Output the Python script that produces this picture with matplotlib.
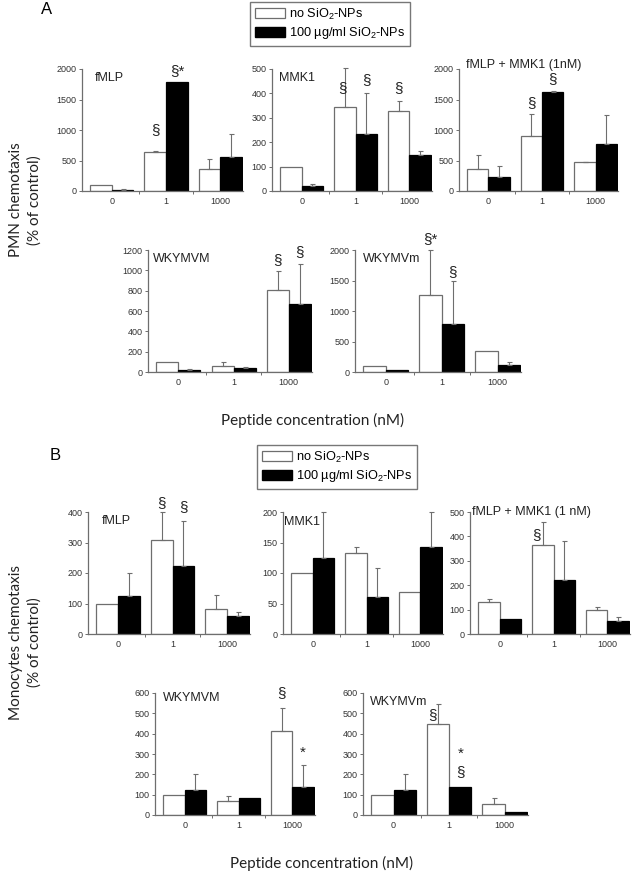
import numpy as np
import matplotlib.pyplot as plt
from matplotlib.patches import Patch

plt.rcParams['font.family'] = ['Liberation Sans', 'DejaVu Sans']
plt.rcParams['mathtext.default'] = 'regular'

conc = ["0", "1", "1000"]
legend_labels = ["no SiO$_2$-NPs", "100 µg/ml SiO$_2$-NPs"]

# Panel A (PMN)
a_fmlp_no, a_fmlp_no_sd = [100, 640, 360], [0, 20, 170]
a_fmlp_np, a_fmlp_np_sd = [20, 1780, 560], [10, 0, 380]
a_mmk1_no, a_mmk1_no_sd = [100, 345, 328], [0, 160, 40]
a_mmk1_np, a_mmk1_np_sd = [20, 232, 148], [10, 170, 16]
a_comb_no, a_comb_no_sd = [355, 900, 470], [235, 360, 10]
a_comb_np, a_comb_np_sd = [230, 1620, 770], [180, 20, 470]
a_wkymvm_no, a_wkymvm_no_sd = [98, 62, 806], [0, 36, 187]
a_wkymvm_np, a_wkymvm_np_sd = [20, 42, 672], [10, 4, 388]
a_wkymvdm_no, a_wkymvdm_no_sd = [100, 1265, 350], [0, 735, 0]
a_wkymvdm_np, a_wkymvdm_np_sd = [30, 787, 115], [0, 713, 55]

# Panel B (monocytes)
b_fmlp_no, b_fmlp_no_sd = [100, 308, 82], [0, 92, 46]
b_fmlp_np, b_fmlp_np_sd = [124, 224, 58], [77, 147, 15]
b_mmk1_no, b_mmk1_no_sd = [100, 133, 69], [0, 10, 0]
b_mmk1_np, b_mmk1_np_sd = [124, 61, 142], [76, 47, 58]
b_comb_no, b_comb_no_sd = [132, 365, 98], [10, 93, 14]
b_comb_np, b_comb_np_sd = [60, 221, 53], [0, 160, 18]
b_wkymvm_no, b_wkymvm_no_sd = [100, 67, 415], [0, 28, 110]
b_wkymvm_np, b_wkymvm_np_sd = [123, 85, 139], [77, 0, 107]
b_wkymvdm_no, b_wkymvdm_no_sd = [100, 448, 53], [0, 97, 29]
b_wkymvdm_np, b_wkymvdm_np_sd = [123, 139, 15], [77, 0, 0]

W, H = 634, 873
fig = plt.figure(figsize=(W / 100, H / 100), dpi=100)
EDGE = '#6e6e6e'
w = 0.4


def panel(box, title, tpos, no, no_sd, npv, np_sd, ymax, ystep, marks):
    x0, x1, y0, y1 = box
    ax = fig.add_axes([x0 / W, 1 - y1 / H, (x1 - x0) / W, (y1 - y0) / H])
    x = np.arange(len(conc))
    ax.bar(x - w / 2, no, w, color='white', edgecolor=EDGE, lw=0.9, zorder=2)
    ax.bar(x + w / 2, npv, w, color='black', edgecolor='black', lw=0.9, zorder=2)
    for xs, vals, sds in [(x - w / 2, no, no_sd), (x + w / 2, npv, np_sd)]:
        sds = np.array(sds)
        m = sds > 0
        if m.any():
            ax.errorbar(xs[m], np.array(vals)[m], yerr=[np.zeros(m.sum()), sds[m]],
                        fmt='none', ecolor=EDGE, elinewidth=0.8, capsize=1.8,
                        capthick=0.8, clip_on=False, zorder=3)
    ax.set_xlim(-0.55, 2.42)
    ax.set_ylim(0, ymax)
    ax.set_yticks(np.arange(0, ymax + 1, ystep))
    ax.set_xticks(x)
    ax.set_xticklabels(conc)
    ax.set_xticks([0.5, 1.5], minor=True)
    ax.tick_params(axis='x', which='major', length=0, pad=4, labelsize=6.5, labelcolor='#333333')
    ax.tick_params(axis='x', which='minor', length=2.5, width=0.7, color=EDGE)
    ax.tick_params(axis='y', length=2.5, width=0.7, color=EDGE, pad=1.5,
                   labelsize=6.5, labelcolor='#333333')
    for s in ['top', 'right']:
        ax.spines[s].set_visible(False)
    for s in ['left', 'bottom']:
        ax.spines[s].set_color(EDGE)
        ax.spines[s].set_linewidth(0.9)
    ax.text(tpos[0] / (x1 - x0), tpos[1], title, transform=ax.transAxes,
            ha='left', va='center', fontsize=9, color='#222222')
    for g, s, txt, yv, dx in marks:
        xx = g + (s - 0.5) * w + dx
        ax.text(xx, yv, txt, ha='center', va='center', fontsize=11,
                color='#222222', clip_on=False)
    return ax


panel((82, 243, 69, 191), "fMLP", (13, 0.93), a_fmlp_no, a_fmlp_no_sd, a_fmlp_np, a_fmlp_np_sd,
      2000, 500, [(1, 0, '§', 1000, 0), (1, 1, '§*', 1960, 0)])
panel((272, 432, 69, 191), "MMK1", (7, 0.93), a_mmk1_no, a_mmk1_no_sd, a_mmk1_np, a_mmk1_np_sd,
      500, 100, [(1, 0, '§', 420, -0.05), (1, 1, '§', 455, 0), (2, 0, '§', 420, 0)])
panel((459, 618, 69, 191), "fMLP + MMK1 (1nM)", (7, 1.03), a_comb_no, a_comb_no_sd, a_comb_np, a_comb_np_sd,
      2000, 500, [(1, 0, '§', 1440, 0), (1, 1, '§', 1830, 0)])
panel((148, 312, 250, 372), "WKYMVM", (5, 0.93), a_wkymvm_no, a_wkymvm_no_sd, a_wkymvm_np, a_wkymvm_np_sd,
      1200, 200, [(2, 0, '§', 1100, 0), (2, 1, '§', 1180, 0)])
panel((355, 521, 250, 372), "WKYMVm", (8, 0.93), a_wkymvdm_no, a_wkymvdm_no_sd, a_wkymvdm_np, a_wkymvdm_np_sd,
      2000, 500, [(1, 0, '§*', 2180, 0), (1, 1, '§', 1640, 0)])

panel((88, 250, 512, 634), "fMLP", (14, 0.93), b_fmlp_no, b_fmlp_no_sd, b_fmlp_np, b_fmlp_np_sd,
      400, 100, [(1, 0, '§', 430, 0), (1, 1, '§', 415, 0)])
panel((283, 443, 512, 634), "MMK1", (1, 0.92), b_mmk1_no, b_mmk1_no_sd, b_mmk1_np, b_mmk1_np_sd,
      200, 50, [])
panel((470, 630, 512, 634), "fMLP + MMK1 (1 nM)", (2, 1.0), b_comb_no, b_comb_no_sd, b_comb_np, b_comb_np_sd,
      500, 100, [(1, 0, '§', 405, -0.12)])
panel((155, 315, 693, 815), "WKYMVM", (8, 0.96), b_wkymvm_no, b_wkymvm_no_sd, b_wkymvm_np, b_wkymvm_np_sd,
      600, 100, [(2, 0, '§', 600, 0), (2, 1, '*', 305, 0)])
panel((363, 528, 693, 815), "WKYMVm", (7, 0.93), b_wkymvdm_no, b_wkymvdm_no_sd, b_wkymvdm_np, b_wkymvdm_np_sd,
      600, 100, [(1, 0, '§', 490, -0.1), (1, 1, '*', 300, 0), (1, 1, '§', 210, 0)])

handles = [Patch(facecolor='white', edgecolor=EDGE, lw=0.9), Patch(facecolor='black', edgecolor='black')]
for cx, top in [(330, 2), (337, 445)]:
    fig.legend(handles, legend_labels, loc='upper center', bbox_to_anchor=(cx / W, 1 - top / H),
               frameon=True, fancybox=False, edgecolor='#555555', fontsize=9.2,
               handlelength=2.4, handleheight=0.8, borderpad=0.35, labelspacing=0.3,
               handletextpad=0.3, borderaxespad=0)

fig.text(47 / W, 1 - 10 / H, "A", fontsize=12, ha='center', va='center')
fig.text(55 / W, 1 - 456 / H, "B", fontsize=12, ha='center', va='center')

lab_font = ['Lato', 'DejaVu Sans']
fig.text(313 / W, 1 - 420 / H, "Peptide concentration (nM)", fontsize=11, family=lab_font,
         ha='center', va='center', color='#222222')
fig.text(322 / W, 1 - 863 / H, "Peptide concentration (nM)", fontsize=11, family=lab_font,
         ha='center', va='center', color='#222222')
fig.text(25 / W, 1 - 200 / H, "PMN chemotaxis\n(% of control)", fontsize=11, family=lab_font,
         rotation=90, ha='center', va='center', linespacing=1.4, color='#222222')
fig.text(25 / W, 1 - 642 / H, "Monocytes chemotaxis\n(% of control)", fontsize=11, family=lab_font,
         rotation=90, ha='center', va='center', linespacing=1.4, color='#222222')

fig.savefig("out.png", dpi=100)
